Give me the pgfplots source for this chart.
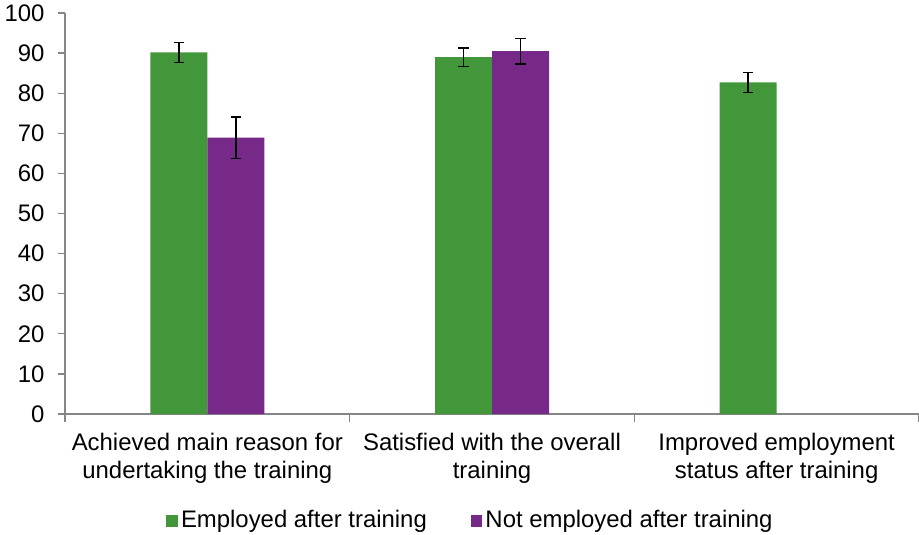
\documentclass[border=0pt]{standalone}
\usepackage{fontspec}
\setmainfont{Liberation Sans}
\usepackage{pgfplots}
\pgfplotsset{compat=1.18}
\definecolor{barG}{RGB}{67,151,59}
\definecolor{barP}{RGB}{119,41,137}
\definecolor{axgray}{RGB}{134,134,134}
\begin{document}
\begin{tikzpicture}
\begin{axis}[
  scale only axis, width=854bp, height=401bp,
  at={(0,0)}, anchor=south west,
  xmin=-0.5, xmax=2.5, ymin=0, ymax=100,
  ybar, bar width=57bp,
  ytick={0,10,...,100},
  xtick={0,1,2},
  xticklabels={{Achieved main reason for\\undertaking the training},{Satisfied with the overall\\training},{Improved employment\\status after training}},
  xticklabel style={align=center, font=\fontsize{24}{28}\selectfont, yshift=-9bp},
  yticklabel style={font=\fontsize{24}{28}\selectfont, xshift=-10bp},
  /pgf/number format/assume math mode=true,
  minor xtick={-0.5,0.5,1.5,2.5},
  major x tick style={draw=none},
  minor tick length=8bp, major tick length=7bp,
  tick align=outside,
  tick style={axgray, line width=1.2bp},
  axis x line*=bottom, axis y line*=left,
  axis line style={axgray, line width=1.2bp},
  legend style={draw=none, at={(0.4754,-0.264)}, anchor=center, legend columns=2,
    font=\fontsize{24}{28}\selectfont,
    /tikz/every even column/.append style={column sep=41bp},
    nodes={inner xsep=3bp}},
  legend image code/.code={\fill[#1] (0bp,-7bp) rectangle (11.6bp,4.6bp);},
]
\addplot[fill=barG, draw=none, bar shift=-28.5bp,
  error bars/.cd, y dir=both, y explicit,
  error bar style={black, line width=1.5bp},
  error mark options={black, rotate=90, mark size=5.2bp, line width=1.5bp}]
  table[x=x, y=y, y error=e] {
x y e
0 90.2 2.5
1 89.0 2.3
2 82.7 2.5
};
\addlegendentry{Employed after training}
\addplot[fill=barP, draw=none, bar shift=28.5bp,
  error bars/.cd, y dir=both, y explicit,
  error bar style={black, line width=1.5bp},
  error mark options={black, rotate=90, mark size=5.2bp, line width=1.5bp}]
  table[x=x, y=y, y error=e] {
x y e
0 68.9 5.2
1 90.5 3.2
};
\addlegendentry{Not employed after training}
\end{axis}
\pgfresetboundingbox
\path[use as bounding box] (-65bp,-121bp) rectangle (854bp,414bp);
\end{tikzpicture}
\end{document}
